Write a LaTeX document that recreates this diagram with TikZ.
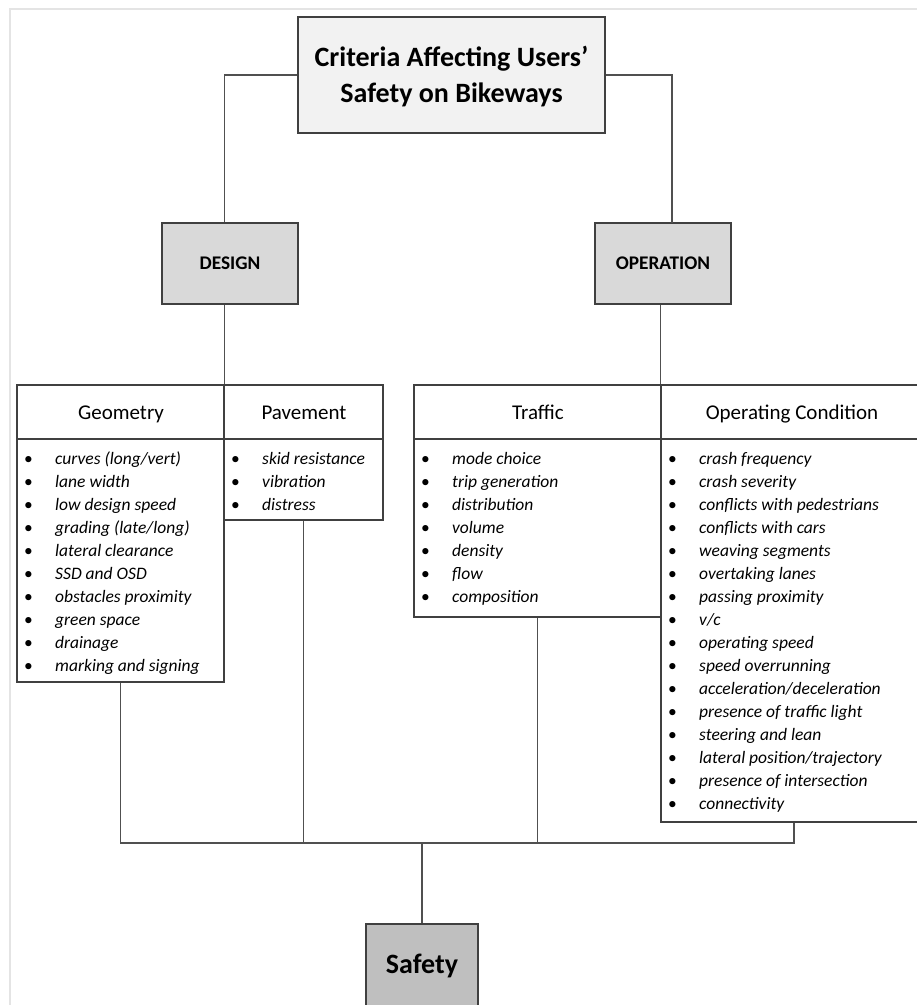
\documentclass[tikz,border=0pt]{standalone}
\usepackage{fontspec}
\setmainfont{Carlito}
\definecolor{titlefill}{HTML}{F2F2F2}
\definecolor{catfill}{HTML}{D9D9D9}
\definecolor{safefill}{HTML}{BFBFBF}
\definecolor{framegray}{HTML}{E4E4E4}
\definecolor{boxline}{HTML}{404040}
\definecolor{conline}{HTML}{505050}
\begin{document}
\begin{tikzpicture}[x=1pt,y=-1pt,
  conn/.style={draw=conline, line width=1.1pt},
  bigbox/.style={draw=boxline, line width=1.4pt, rectangle, inner sep=0pt, align=center},
  tabbox/.style={draw=boxline, line width=1.2pt, rectangle, inner sep=0pt, fill=white},
  hdrtext/.style={inner sep=0pt, text height=15pt, text depth=1pt, font=\fontsize{21}{24}\selectfont},
  itm/.style={anchor=west, inner sep=0pt, text height=12pt, text depth=4pt, font=\fontsize{17.5}{20}\selectfont\itshape}
]
\useasboundingbox (0,0) rectangle (917,1005);
% page frame
\draw[framegray, line width=1.5pt] (10,1010) -- (10,9) -- (930,9);

% top boxes
\node[bigbox, fill=titlefill, minimum width=307pt, minimum height=116pt] (title) at (451.5,75) {};
\node[align=center, inner sep=0pt, font=\fontsize{28}{36}\selectfont\bfseries] (titletext) at (451.5,76.5) {Criteria Affecting Users’\\Safety on Bikeways};
\node[bigbox, fill=catfill, minimum width=136pt, minimum height=81pt,
      font=\fontsize{19.3}{22}\selectfont\bfseries] (design) at (230,263.5) {DESIGN};
\node[bigbox, fill=catfill, minimum width=136pt, minimum height=81pt,
      font=\fontsize{19.3}{22}\selectfont\bfseries] (operation) at (663,263.5) {OPERATION};
\node[bigbox, fill=safefill, minimum width=112pt, minimum height=90pt] (safety) at (422,969) {};
\node[inner sep=0pt, font=\fontsize{28}{32}\selectfont\bfseries] (safetytext) at (422,966) {Safety};

% table boxes
\node[tabbox, minimum width=207pt, minimum height=54pt] (geomhead) at (120.5,412) {};
\node[hdrtext] (geomtext) at (121,412) {Geometry};
\node[tabbox, minimum width=207pt, minimum height=243pt] (geombody) at (120.5,560.5) {};
\node[tabbox, minimum width=159pt, minimum height=54pt] (pavhead) at (303.5,412) {};
\node[hdrtext] (pavtext) at (304,412) {Pavement};
\node[tabbox, minimum width=159pt, minimum height=81pt] (pavbody) at (303.5,479.5) {};
\node[tabbox, minimum width=247pt, minimum height=54pt] (trhead) at (537.5,412) {};
\node[hdrtext] (trtext) at (538,412) {Traffic};
\node[tabbox, minimum width=247pt, minimum height=178pt] (trbody) at (537.5,528) {};
\node[tabbox, minimum width=266pt, minimum height=54pt] (ophead) at (794,412) {};
\node[hdrtext] (optext) at (792,412) {Operating Condition};
\node[tabbox, minimum width=266pt, minimum height=383pt] (opbody) at (794,630.5) {};

% item lists
\foreach \t [count=\i] in {curves (long/vert), lane width, low design speed, grading (late/long), lateral clearance, SSD and OSD, obstacles proximity, green space, drainage, marking and signing}
  \node[itm] (g\i) at (24,{437+23.05*\i}) {\makebox[31pt][l]{\upshape\textbullet}\t};
\foreach \t [count=\i] in {skid resistance, vibration, distress}
  \node[itm] (p\i) at (231,{437+23.05*\i}) {\makebox[31pt][l]{\upshape\textbullet}\t};
\foreach \t [count=\i] in {mode choice, trip generation, distribution, volume, density, flow, composition}
  \node[itm] (t\i) at (421,{437+23.05*\i}) {\makebox[31pt][l]{\upshape\textbullet}\t};
\foreach \t [count=\i] in {crash frequency, crash severity, conflicts with pedestrians, conflicts with cars, weaving segments, overtaking lanes, passing proximity, v/c, operating speed, speed overrunning, acceleration/deceleration, presence of traffic light, steering and lean, lateral position/trajectory, presence of intersection, connectivity}
  \node[itm] (o\i) at (668,{437+23.05*\i}) {\makebox[31pt][l]{\upshape\textbullet}\t};

% connectors
\coordinate (opin) at (672,223);
\coordinate (bus) at (422,843);
\draw[conn] (title.west) -| (design.north -| geomhead.north east);
\draw[conn] (title.east) -| (opin);
\draw[conn] (design.south -| geomhead.north east) -- (geomhead.north east);
\draw[conn] (operation.south -| ophead.north west) -- (ophead.north west);
\draw[conn] (geombody.south) |- (bus);
\draw[conn] (opbody.south) |- (bus);
\draw[conn] (pavbody.south) -- (pavbody.south |- bus);
\draw[conn] (trbody.south) -- (trbody.south |- bus);
\draw[conn] (bus) -- (safety.north);
\end{tikzpicture}
\end{document}
